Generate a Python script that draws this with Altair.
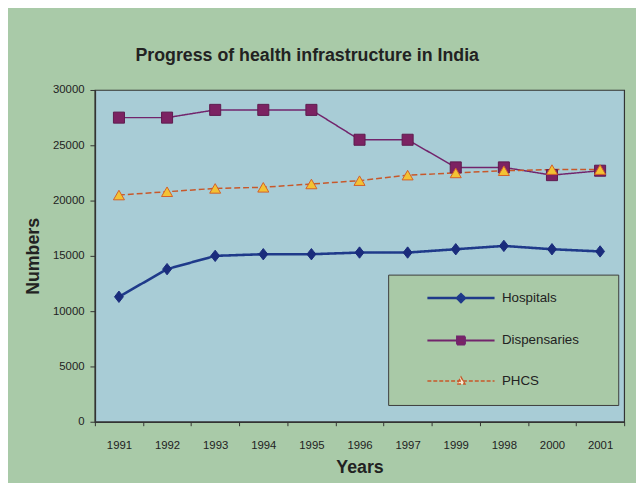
import altair as alt
import pandas as pd

# ---- data ----
years = ["1991", "1992", "1993", "1994", "1995", "1996", "1997", "1999", "1998", "2000", "2001"]
hospitals = [11300, 13800, 15000, 15150, 15150, 15300, 15300, 15600, 15900, 15600, 15400]
dispensaries = [27500, 27500, 28200, 28200, 28200, 25500, 25500, 23000, 23000, 22300, 22700]
phcs = [20500, 20800, 21100, 21200, 21500, 21800, 22300, 22500, 22700, 22800, 22800]
series_names = ["Hospitals", "Dispensaries", "PHCS"]
y_ticks = [0, 5000, 10000, 15000, 20000, 25000, 30000]

rows = []
for name, vals in zip(series_names, [hospitals, dispensaries, phcs]):
    for yr, v in zip(years, vals):
        rows.append({"Year": yr, "Series": name, "Value": v})
df = pd.DataFrame(rows)

# ---- styles ----
FONT = "Liberation Sans"
line_colors = ["#1f3a8a", "#72246c", "#c8582a"]
marker_fill = ["#1a2c7c", "#7c2262", "#f3c233"]
marker_stroke = ["#1a2c7c", "#5e1a4e", "#d2602a"]
dashes = [[1, 0], [1, 0], [6, 3]]
widths = [2.6, 1.5, 1.5]
marker_shapes = ["M0,-1.15L0.9,0L0,1.15L-0.9,0Z", "square", "triangle-up"]
marker_sizes = [100, 125, 125]

# legend glyphs: a line segment with the marker in the middle
legend_shapes = [
    "M16,0H84M50,-4L54,0L50,4L46,0ZM187,0",
    "M16,0H84M46,-4H54V4H46ZM187,0",
    "M16,0H84M50,-4L54,3H46ZM187,0",
]
legend_fill = ["#1a2c7c", "#7c2262", "#f6ead0"]
legend_dash = [[1, 0], [1, 0], [4, 2]]
legend_width = [2.5, 1.5, 1.5]

x_enc = alt.X(
    "Year:N",
    sort=years,
    scale=alt.Scale(type="band", paddingInner=0, paddingOuter=0),
    bandPosition=0.5,
    axis=alt.Axis(
        title="Years", tickBand="extent", labelAngle=0, tickSize=4,
        labelPadding=14, titlePadding=8, labelFont=FONT, labelFontSize=11.5,
        titleFont=FONT, titleFontSize=18, titleFontWeight="bold",
    ),
)
y_enc = alt.Y(
    "Value:Q",
    scale=alt.Scale(domain=[0, 30000], nice=False),
    axis=alt.Axis(
        title="Numbers", values=y_ticks, format="d", tickSize=5, labelPadding=6,
        titlePadding=10, labelFont=FONT, labelFontSize=11.5,
        titleFont=FONT, titleFontSize=18, titleFontWeight="bold",
    ),
)

base = alt.Chart(df).encode(x=x_enc, y=y_enc)

layers = []
for i, name in enumerate(series_names):
    sub = base.transform_filter(alt.datum.Series == name)
    layers.append(
        sub.mark_line(color=line_colors[i], strokeDash=dashes[i], strokeWidth=widths[i])
    )
for i, name in enumerate(series_names):
    sub = base.transform_filter(alt.datum.Series == name)
    layers.append(
        sub.mark_point(
            filled=True, opacity=1, strokeWidth=1, shape=marker_shapes[i],
            fill=marker_fill[i], stroke=marker_stroke[i], size=marker_sizes[i],
        )
    )

leg = alt.Legend(
    title=None, orient="none", legendX=297, legendY=187,
    fillColor="#a9c9a7", strokeColor="#3c3c3c", padding=17,
    rowPadding=25, labelFont=FONT, labelFontSize=13.5,
    labelColor="#222222", labelOffset=84.7, symbolSize=4,
)

legend_layer = (
    base.transform_filter("false")
    .mark_point(filled=True, opacity=1)
    .encode(
        shape=alt.Shape("Series:N", scale=alt.Scale(domain=series_names, range=legend_shapes), legend=leg),
        fill=alt.Fill("Series:N", scale=alt.Scale(domain=series_names, range=legend_fill), legend=leg),
        stroke=alt.Stroke("Series:N", scale=alt.Scale(domain=series_names, range=line_colors), legend=leg),
        strokeDash=alt.StrokeDash("Series:N", scale=alt.Scale(domain=series_names, range=legend_dash), legend=leg),
        strokeWidth=alt.StrokeWidth("Series:N", scale=alt.Scale(domain=series_names, range=legend_width), legend=leg),
    )
)
layers.append(legend_layer)

chart = (
    alt.layer(*layers)
    .properties(
        width=536,
        height=336,
        autosize=alt.AutoSizeParams(type="none"),
        padding={"left": 88, "top": 80, "right": 12, "bottom": 59},
        background="#a9caa8",
        title=alt.Title(
            "Progress of health infrastructure in India",
            font=FONT, fontSize=18, fontWeight="bold", color="#222222",
            anchor="middle", dx=-53, offset=5, baseline="alphabetic",
        ),
    )
    .configure_view(fill="#a8ccd6", stroke="#333333", strokeWidth=1.2)
    .configure_axis(
        grid=False, domainColor="#333333", domainWidth=1.5, tickColor="#333333",
        labelColor="#222222", titleColor="#222222",
    )
)

chart.save("out.html", embed_options={"renderer": "svg", "actions": False})
